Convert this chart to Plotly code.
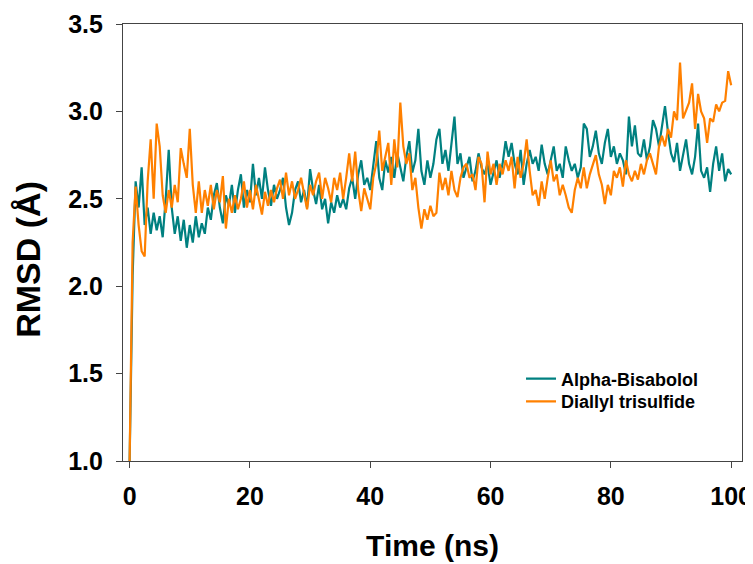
#### Load Libraries ####
import plotly.graph_objects as go


#### Data (0.5 ns steps) ####
time_ns = [i * 0.5 for i in range(201)]

alpha_bisabolol = [
    1.00, 2.06, 2.60, 2.45, 2.68, 2.35, 2.45, 2.30, 2.42, 2.32,
    2.40, 2.28, 2.50, 2.78, 2.45, 2.30, 2.40, 2.26, 2.38, 2.22,
    2.35, 2.25, 2.40, 2.28, 2.36, 2.30, 2.45, 2.38, 2.52, 2.59,
    2.45, 2.36, 2.52, 2.46, 2.58, 2.42, 2.55, 2.64, 2.45, 2.55,
    2.48, 2.70, 2.52, 2.62, 2.50, 2.68, 2.55, 2.46, 2.58, 2.50,
    2.55, 2.62, 2.45, 2.35, 2.42, 2.55, 2.60, 2.48, 2.55, 2.45,
    2.67, 2.55, 2.47, 2.58, 2.44, 2.50, 2.36, 2.48, 2.42, 2.52,
    2.45, 2.50, 2.44, 2.56, 2.62, 2.50, 2.64, 2.72, 2.58, 2.62,
    2.55, 2.70, 2.83, 2.62, 2.55, 2.72, 2.65, 2.74, 2.62, 2.76,
    2.68, 2.60, 2.74, 2.83, 2.65, 2.72, 2.90, 2.66, 2.58, 2.72,
    2.62, 2.70, 2.84, 2.90, 2.70, 2.78, 2.66, 2.82, 2.97, 2.70,
    2.76, 2.62, 2.68, 2.74, 2.60, 2.66, 2.76, 2.68, 2.64, 2.70,
    2.58, 2.66, 2.72, 2.62, 2.70, 2.83, 2.74, 2.82, 2.70, 2.64,
    2.78, 2.58, 2.70, 2.78, 2.70, 2.74, 2.66, 2.81, 2.70, 2.64,
    2.72, 2.80, 2.66, 2.70, 2.62, 2.80, 2.72, 2.66, 2.70, 2.62,
    2.68, 2.93, 2.90, 2.74, 2.80, 2.89, 2.76, 2.70, 2.82, 2.90,
    2.74, 2.80, 2.70, 2.76, 2.72, 2.64, 2.97, 2.80, 2.92, 2.76,
    2.74, 2.84, 2.72, 2.80, 2.95, 2.90, 2.80, 2.92, 3.03, 2.88,
    2.76, 2.71, 2.82, 2.66, 2.76, 2.84, 2.70, 2.64, 2.74, 2.93,
    2.66, 2.62, 2.68, 2.54, 2.70, 2.80, 2.66, 2.76, 2.60, 2.67,
    2.64,
]

diallyl_trisulfide = [
    1.00, 2.25, 2.57, 2.35, 2.20, 2.17, 2.60, 2.84, 2.50, 2.93,
    2.80, 2.52, 2.42, 2.55, 2.45, 2.58, 2.48, 2.79, 2.70, 2.62,
    2.90, 2.58, 2.42, 2.60, 2.42, 2.55, 2.46, 2.58, 2.44, 2.55,
    2.48, 2.63, 2.33, 2.50, 2.42, 2.52, 2.44, 2.50, 2.60, 2.45,
    2.55, 2.44, 2.58, 2.50, 2.41, 2.54, 2.46, 2.55, 2.48, 2.56,
    2.61, 2.50, 2.65, 2.52, 2.60, 2.50, 2.55, 2.62, 2.52, 2.44,
    2.58, 2.52, 2.60, 2.65, 2.50, 2.62, 2.56, 2.48, 2.62, 2.55,
    2.65, 2.50, 2.62, 2.76, 2.60, 2.77, 2.55, 2.43, 2.56, 2.50,
    2.44, 2.62, 2.70, 2.89, 2.66, 2.74, 2.82, 2.58, 2.84, 2.68,
    3.05, 2.80, 2.70, 2.76, 2.55, 2.62, 2.45, 2.33, 2.44, 2.38,
    2.46, 2.40, 2.42, 2.65, 2.55, 2.62, 2.52, 2.66, 2.55, 2.51,
    2.62, 2.68, 2.70, 2.62, 2.64, 2.55, 2.74, 2.70, 2.48, 2.77,
    2.64, 2.70, 2.58, 2.70, 2.64, 2.72, 2.66, 2.74, 2.56, 2.74,
    2.62, 2.70, 2.84, 2.66, 2.52, 2.55, 2.46, 2.60, 2.50, 2.62,
    2.72, 2.60, 2.64, 2.52, 2.58, 2.52, 2.45, 2.42, 2.55, 2.62,
    2.56, 2.68, 2.56, 2.64, 2.70, 2.75, 2.64, 2.58, 2.47, 2.58,
    2.52, 2.66, 2.62, 2.68, 2.57, 2.72, 2.64, 2.60, 2.66, 2.61,
    2.70, 2.64, 2.72, 2.76, 2.70, 2.64, 2.80, 2.86, 2.80, 2.90,
    2.85, 3.00, 2.95, 3.28, 2.96, 3.00, 3.05, 3.16, 2.90, 3.10,
    3.00, 2.96, 2.82, 2.96, 2.94, 3.04, 3.00, 3.05, 3.06, 3.23,
    3.15,
]

series_names = ["Alpha-Bisabolol", "Diallyl trisulfide"]
series_colors = ["#008080", "#FF8000"]

FONT = "Liberation Sans, Arial, sans-serif"


#### Build Figure ####
def makeAxis(**extra):
    """
    shared look of both axes: dark frame, outside ticks, bold labels
    """
    axis = dict(
        showline=True,
        linecolor="#444444",
        linewidth=1.2,
        mirror=True,
        showgrid=False,
        zeroline=False,
        automargin=False,
        ticks="outside",
        ticklen=6,
        tickwidth=1.2,
        tickcolor="#444444",
        tickfont=dict(family=FONT, size=25, color="black", weight="bold"),
    )
    axis.update(extra)
    return axis


def legendBox(middle):
    """
    one legend per trace so the row spacing can follow the reference
    """
    return dict(x=0.643, y=middle, xanchor="left", yanchor="middle",
                bgcolor="rgba(0,0,0,0)", borderwidth=0,
                font=dict(family=FONT, size=18, color="black", weight="bold"))


def main():
    fig = go.Figure()
    for name, values, color, leg in zip(series_names,
                                        [alpha_bisabolol, diallyl_trisulfide],
                                        series_colors, ["legend", "legend2"]):
        fig.add_trace(go.Scatter(x=time_ns, y=values, mode="lines", name=name,
                                 legend=leg, line=dict(color=color, width=2.2)))

    # the page puts the figure 8px in from the top-left corner
    fig.update_layout(
        width=745,
        height=556,
        margin=dict(l=115, r=11, t=16, b=103),
        paper_bgcolor="white",
        plot_bgcolor="white",
        showlegend=True,
        xaxis=makeAxis(range=[-1.1, 101.8], tick0=0, dtick=20,
                       ticklabelstandoff=7,
                       title=dict(text="Time (ns)", standoff=25,
                                  font=dict(family=FONT, size=30, color="black", weight="bold"))),
        yaxis=makeAxis(range=[1.0, 3.5], tick0=1.0, dtick=0.5, tickformat=".1f",
                       ticklabelstandoff=8),
        legend=legendBox(0.1876),
        legend2=legendBox(0.1357),
        annotations=[dict(text="RMSD (Å)", textangle=-90, showarrow=False,
                          xref="paper", yref="paper", x=-0.154, y=0.462,
                          xanchor="center", yanchor="middle",
                          font=dict(family=FONT, size=34, color="black", weight="bold"))],
    )
    fig.write_html("out.html")


if __name__ == '__main__':
    main()
